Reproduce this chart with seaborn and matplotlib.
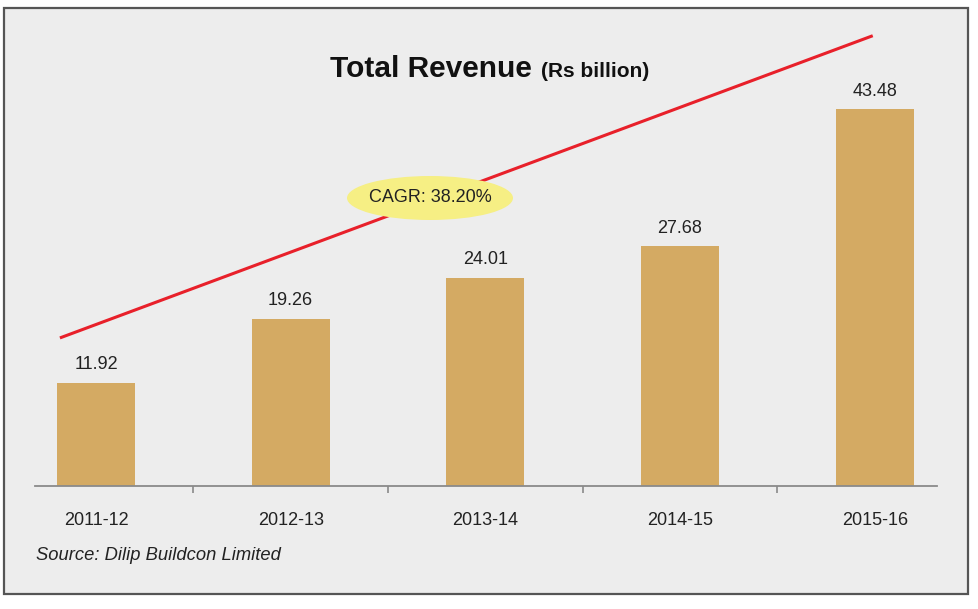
import numpy as np
import pandas as pd
import matplotlib
matplotlib.use("Agg")
import matplotlib.pyplot as plt
from matplotlib.patches import Ellipse, Rectangle
import seaborn as sns

# data
years = ["2011-12", "2012-13", "2013-14", "2014-15", "2015-16"]
revenue = [11.92, 19.26, 24.01, 27.68, 43.48]
# decorative CAGR trend line (category units, Rs billion)
trend_x = [-0.185, 3.99]
trend_y = [17.1, 52.0]
cagr_label = "CAGR: 38.20%"

df = pd.DataFrame({"year": years, "revenue": revenue})

sns.set_theme(style="white")
plt.rcParams["font.family"] = ["Liberation Sans", "DejaVu Sans"]

W, H = 979, 609
fig = plt.figure(figsize=(W / 100, H / 100), dpi=100, facecolor="white")

# grey panel with border
fig.patches.append(Rectangle((4 / W, 1 - 594 / H), (968 - 4) / W, (594 - 8) / H,
                             transform=fig.transFigure, facecolor="#ededed",
                             edgecolor="#555555", linewidth=1.6, zorder=-5))

ax = fig.add_axes([35 / W, (H - 486) / H, (937 - 35) / W, (486 - 30) / H])
ax.set_facecolor("none")
ax.set_zorder(2)

sns.barplot(data=df, x="year", y="revenue", color="#d4aa63", width=0.4,
            saturation=1, linewidth=0, ax=ax, zorder=2)

ax.set_xlim(-0.313, 4.32)
ax.set_ylim(0, 52.66)

for i, v in enumerate(revenue):
    ax.annotate(f"{v:.2f}", (i, v), xytext=(0, 7), textcoords="offset points",
                ha="center", va="bottom", fontsize=13, color="#222222")

ax.plot(trend_x, trend_y, color="#e8202a", lw=2.2, zorder=3, solid_capstyle="butt")

# CAGR bubble, sized in pixels around a point on the axes
cx = (430 - 35) / (937 - 35)
cy = (486 - 198) / (486 - 30)
bbox_w = (937 - 35)
bbox_h = (486 - 30)
ax.add_patch(Ellipse((cx, cy), 166 / bbox_w, 44 / bbox_h, transform=ax.transAxes,
                     facecolor="#f6ef84", edgecolor="none", zorder=4))
ax.text(cx, cy, cagr_label, transform=ax.transAxes, ha="center", va="center",
        fontsize=13, color="#222222", zorder=5)

for s in ["top", "right", "left"]:
    ax.spines[s].set_visible(False)
ax.spines["bottom"].set_color("#8a8a8a")
ax.spines["bottom"].set_linewidth(1.3)
ax.set_yticks([])
ax.set_xlabel("")
ax.set_ylabel("")
ax.tick_params(axis="x", which="major", length=0, pad=19, labelsize=13, labelcolor="#222222")
ax.set_xticks(np.arange(0.5, len(years) - 1, 1), minor=True)
ax.tick_params(axis="x", which="minor", bottom=True, length=5, width=1.2,
               color="#8a8a8a", direction="out")

title_font = ["Liberation Sans", "DejaVu Sans"]
t1 = fig.text(330 / W, 1 - 77 / H, "Total Revenue", fontsize=21.5, fontweight="bold",
              family=title_font, va="baseline", ha="left", color="#111111")
fig.canvas.draw()
bb = t1.get_window_extent()
t2 = fig.text((bb.x1 + 9) / W, 1 - 77 / H, "(Rs billion)", fontsize=15, fontweight="bold",
              family=title_font, va="baseline", ha="left", color="#111111")

fig.text(36 / W, 1 - 556 / H, "Source: Dilip Buildcon Limited", fontsize=13.2,
         style="italic", va="center", ha="left", color="#222222")

fig.savefig("out.png", dpi=100, facecolor="white")
